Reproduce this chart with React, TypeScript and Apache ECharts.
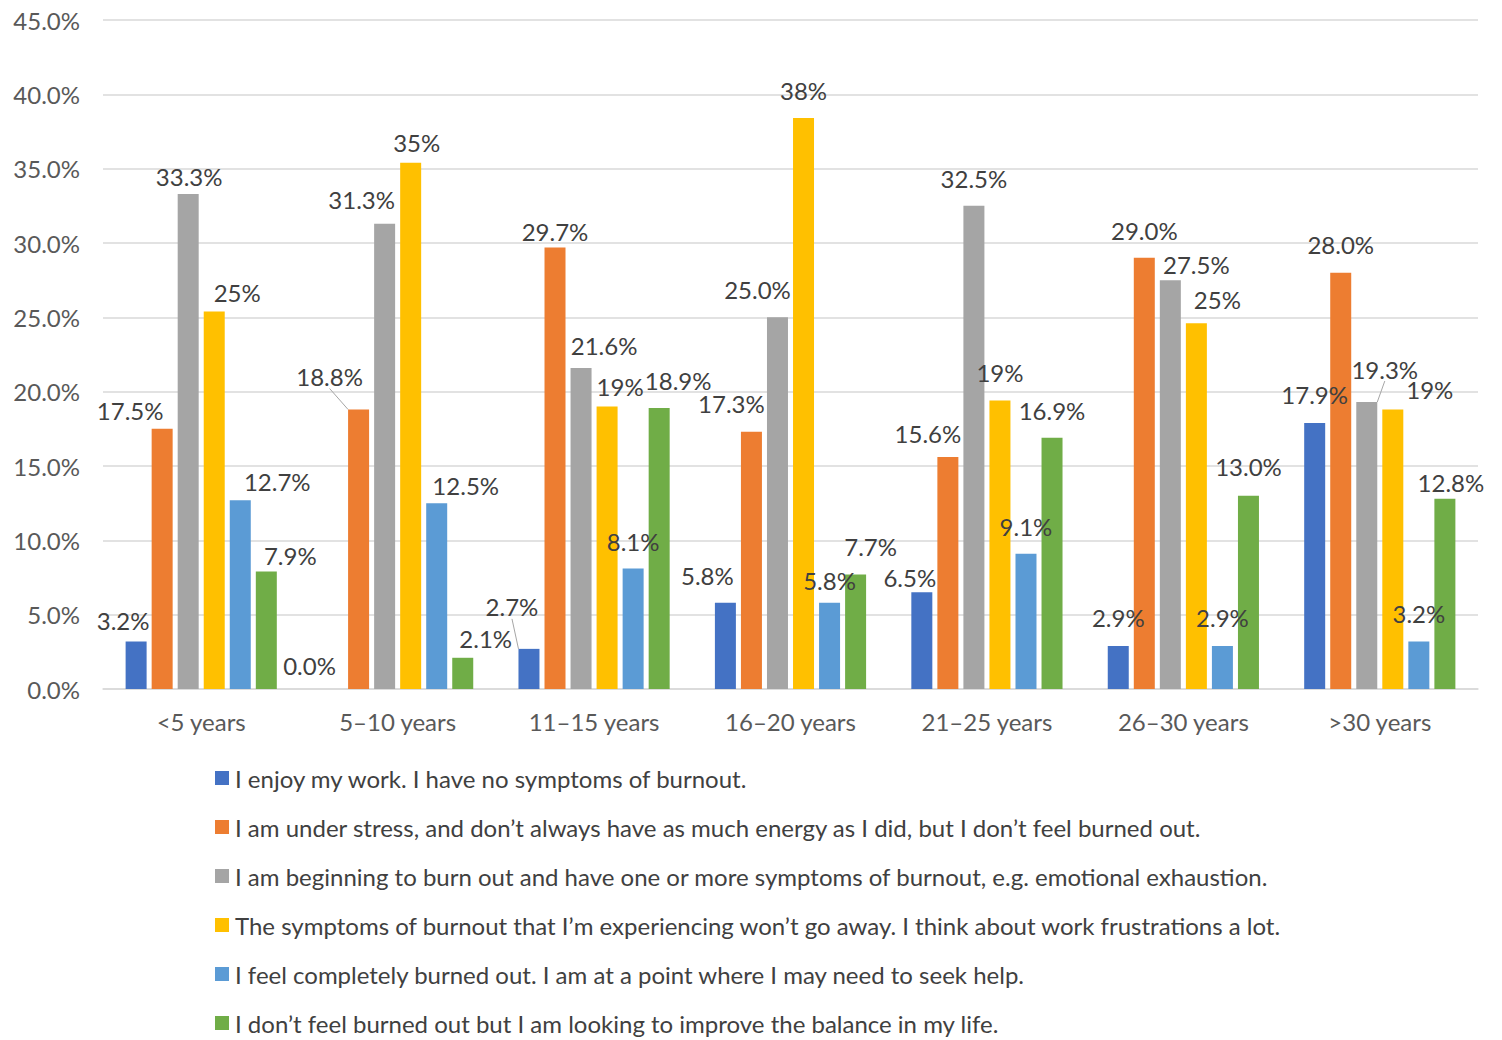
import React, { useEffect, useRef } from "react";
import * as echarts from "echarts";

const categories = ["<5 years", "5–10 years", "11–15 years", "16–20 years", "21–25 years", "26–30 years", ">30 years"];
const seriesNames = [
  "I enjoy my work. I have no symptoms of burnout.",
  "I am under stress, and don’t always have as much energy as I did, but I don’t feel burned out.",
  "I am beginning to burn out and have one or more symptoms of burnout, e.g. emotional exhaustion.",
  "The symptoms of burnout that I’m experiencing won’t go away. I think about work frustrations a lot.",
  "I feel completely burned out. I am at a point where I may need to seek help.",
  "I don’t feel burned out but I am looking to improve the balance in my life.",
];
const enjoyWork = [3.2, 0.0, 2.7, 5.8, 6.5, 2.9, 17.9];
const underStress = [17.5, 18.8, 29.7, 17.3, 15.6, 29.0, 28.0];
const beginningBurnout = [33.3, 31.3, 21.6, 25.0, 32.5, 27.5, 19.3];
const symptomsPersist = [25.4, 35.4, 19.0, 38.4, 19.4, 24.6, 18.8];
const completelyBurned = [12.7, 12.5, 8.1, 5.8, 9.1, 2.9, 3.2];
const improveBalance = [7.9, 2.1, 18.9, 7.7, 16.9, 13.0, 12.8];
const yTicks = [0, 5, 10, 15, 20, 25, 30, 35, 40, 45];

const colors = ["#4472C4", "#ED7D31", "#A5A5A5", "#FFC000", "#5B9BD5", "#70AD47"];
const decimals = [1, 1, 1, 0, 1, 1];

// label offsets [dx, dy] per series, per category (relative to default top position)
const labelOffsets: number[][][] = [
  [[-13, -4], [-23, -7], [-17, -25], [-18, -10], [-12, 2], [0, -11], [0, -11]],
  [[-32, -1], [-29, -16], [0, 1], [-20, -11], [-20, -7], [0, -10], [0, -11]],
  [[1, 0], [-23, -7], [23, -5], [-20, -11], [0, -10], [26, 1], [18, -16]],
  [[23, -2], [6, -3], [13, -3], [0, -11], [0, -11], [21, -7], [37, -3]],
  [[37, -2], [29, -1], [0, -10], [0, -5], [0, -10], [0, -11], [0, -11]],
  [[24, 1], [23, -2], [19, -11], [15, -11], [0, -10], [0, -12], [6, 1]],
];
const leaderLines: number[][] = [[0, 2], [1, 1], [2, 6]];

const FONT = "Lato";
const FS = 24;

export default function App() {
  const ref = useRef<HTMLDivElement>(null);
  useEffect(() => {
    if (!ref.current) return;
    const chart = echarts.init(ref.current, undefined, { renderer: "svg" });
    const allSeries = [enjoyWork, underStress, beginningBurnout, symptomsPersist, completelyBurned, improveBalance];
    const option = {
      animation: false,
      textStyle: { fontFamily: FONT },
      grid: { left: 103, right: 24, top: 20, bottom: 351, containLabel: false },
      legend: {
        orient: "vertical",
        left: 215,
        top: 766,
        padding: 0,
        itemWidth: 14,
        itemHeight: 14,
        itemGap: 25,
        icon: "rect",
        textStyle: { fontFamily: FONT, fontSize: FS, color: "#404040", padding: [0, 0, 0, 1] },
        data: seriesNames,
      },
      xAxis: {
        type: "category",
        data: categories,
        axisLine: { lineStyle: { color: "#D9D9D9", width: 1.5 } },
        axisTick: { show: false },
        axisLabel: { fontFamily: FONT, fontSize: FS, color: "#595959", margin: 20 },
      },
      yAxis: {
        type: "value",
        min: 0,
        max: 45,
        interval: 5,
        axisLine: { show: false },
        axisTick: { show: false },
        splitLine: { lineStyle: { color: "#D9D9D9", width: 1.5 } },
        axisLabel: {
          fontFamily: FONT,
          fontSize: FS,
          color: "#595959",
          margin: 23,
          formatter: (v: number) => (yTicks.includes(v) ? v.toFixed(1) + "%" : ""),
        },
      },
      series: allSeries.map((vals, si) => ({
        name: seriesNames[si],
        type: "bar",
        barWidth: 21,
        barGap: "24%",
        itemStyle: { color: colors[si] },
        label: {
          show: true,
          position: "top",
          distance: 5,
          fontFamily: FONT,
          fontSize: FS,
          color: "#404040",
          formatter: (p: any) => p.value.toFixed(decimals[si]) + "%",
        },
        labelLayout: (p: any) => {
          const o = labelOffsets[si][p.dataIndex];
          return { dx: o[0], dy: o[1] };
        },
        data: vals.map((v, ci) => {
          const hasLine = leaderLines.some(([s, c]) => s === si && c === ci);
          return hasLine
            ? { value: v, labelLine: { show: true, lineStyle: { color: "#A6A6A6", width: 1 } } }
            : { value: v };
        }),
      })),
    };
    chart.setOption(option as any);
    return () => chart.dispose();
  }, []);
  return (
    <div
      ref={ref}
      style={{ position: "absolute", left: 0, top: 0, width: 1502, height: 1040, background: "#fff", overflow: "hidden" }}
    />
  );
}
